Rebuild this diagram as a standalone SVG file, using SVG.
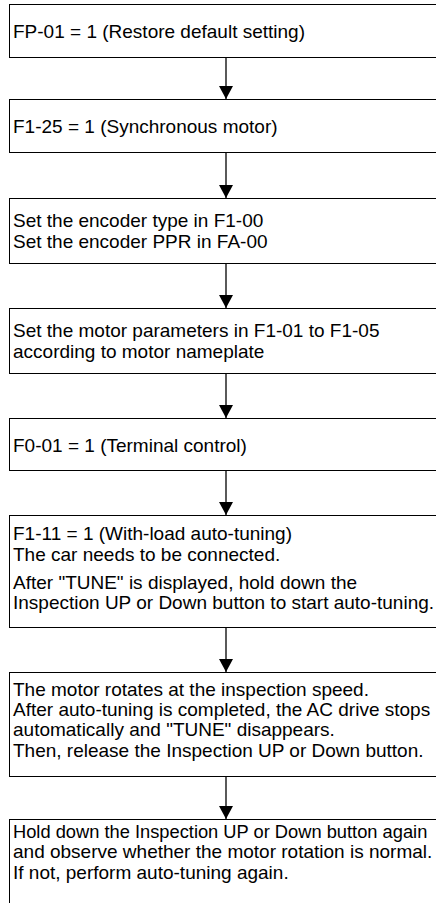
<svg xmlns="http://www.w3.org/2000/svg" width="436" height="903" viewBox="0 0 436 903">
<defs>
<style>
.box{fill:#fff;stroke:#000;stroke-width:1}
.t{font-family:"Liberation Sans",Arial,sans-serif;font-size:19px;fill:#000}
.c{stroke:#000;stroke-width:1.3;fill:none}
</style>
<marker id="ah" markerUnits="userSpaceOnUse" markerWidth="14" markerHeight="15" refX="13" refY="7" orient="auto">
<path d="M0,0 L13,7 L0,14 Z" fill="#000"/>
</marker>
</defs>
<rect width="436" height="903" fill="#fff"/>
<g id="connectors">
<line class="c" x1="226" y1="57" x2="226" y2="99" marker-end="url(#ah)"/>
<line class="c" x1="226" y1="152" x2="226" y2="198" marker-end="url(#ah)"/>
<line class="c" x1="226" y1="263" x2="226" y2="308" marker-end="url(#ah)"/>
<line class="c" x1="226" y1="373" x2="226" y2="418" marker-end="url(#ah)"/>
<line class="c" x1="226" y1="470" x2="226" y2="515" marker-end="url(#ah)"/>
<line class="c" x1="226" y1="627" x2="226" y2="672" marker-end="url(#ah)"/>
<line class="c" x1="226" y1="776" x2="226" y2="819" marker-end="url(#ah)"/>
</g>
<g id="n1"><rect class="box" x="9.5" y="4.5" width="440" height="53"/>
<text class="t" x="13" y="38">FP-01 = 1 (Restore default setting)</text></g>
<g id="n2"><rect class="box" x="9.5" y="99.5" width="440" height="53"/>
<text class="t" x="13" y="133">F1-25 = 1 (Synchronous motor)</text></g>
<g id="n3"><rect class="box" x="9.5" y="198.5" width="440" height="65"/>
<text class="t" x="13" y="227">Set the encoder type in F1-00</text>
<text class="t" x="13" y="248">Set the encoder PPR in FA-00</text></g>
<g id="n4"><rect class="box" x="9.5" y="308.5" width="440" height="65"/>
<text class="t" x="13" y="337">Set the motor parameters in F1-01 to F1-05</text>
<text class="t" x="13" y="358">according to motor nameplate</text></g>
<g id="n5"><rect class="box" x="9.5" y="418.5" width="440" height="52"/>
<text class="t" x="13" y="452">F0-01 = 1 (Terminal control)</text></g>
<g id="n6"><rect class="box" x="9.5" y="515.5" width="440" height="112"/>
<text class="t" x="13" y="540">F1-11 = 1 (With-load auto-tuning)</text>
<text class="t" x="13" y="561">The car needs to be connected.</text>
<text class="t" x="13" y="589">After "TUNE" is displayed, hold down the</text>
<text class="t" x="13" y="609">Inspection UP or Down button to start auto-tuning.</text></g>
<g id="n7"><rect class="box" x="9.5" y="672.5" width="440" height="104"/>
<text class="t" x="13" y="696">The motor rotates at the inspection speed.</text>
<text class="t" x="13" y="716">After auto-tuning is completed, the AC drive stops</text>
<text class="t" x="13" y="736">automatically and "TUNE" disappears.</text>
<text class="t" x="13" y="757">Then, release the Inspection UP or Down button.</text></g>
<g id="n8"><rect class="box" x="9.5" y="819.5" width="440" height="100"/>
<text class="t" x="13" y="838" style="font-size:18.3px">Hold down the Inspection UP or Down button again</text>
<text class="t" x="13" y="858">and observe whether the motor rotation is normal.</text>
<text class="t" x="13" y="879">If not, perform auto-tuning again.</text></g>
</svg>
